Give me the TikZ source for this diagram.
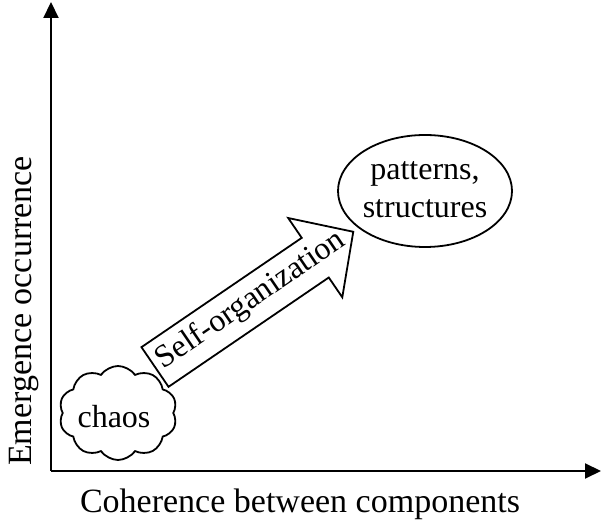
\documentclass[tikz,border=0pt]{standalone}
\usepackage{fontspec}
\setmainfont{Liberation Serif}
\usetikzlibrary{arrows.meta,shapes.geometric,shapes.symbols}
\begin{document}
\begin{tikzpicture}[x=1pt,y=1pt,
  axis/.style={line width=2pt,-{Triangle[length=16pt,width=15pt]}},
  axislabel/.style={font=\fontsize{34}{36}\selectfont},
  inlabel/.style={font=\fontsize{32}{38}\selectfont, align=center, inner sep=0pt},
  outline/.style={draw=black, line width=1.8pt}]
\useasboundingbox (0,0) rectangle (602,521);

% axes
\coordinate (origin) at (51,50);
\coordinate (ytop) at (51,519);
\coordinate (xend) at (601,50);
\draw[axis] (origin) -- (ytop);
\draw[axis] (origin) -- (xend);

\node[axislabel] (xlab) at (300,17) {Coherence between components};
\node[axislabel, rotate=90] (ylab) at (24,210) {Emergence occurrence};

% initial state
\node[cloud, outline, cloud puffs=10, cloud puff arc=110, aspect=1.3,
      minimum width=118pt, minimum height=94pt, inner sep=0pt] (chaos) at (118,108) {};
\node[inlabel] (chaostext) at (114,104) {chaos};

% final state
\node[ellipse, outline, minimum width=174pt, minimum height=112pt, inner sep=0pt]
      (patterns) at (425,330) {};
\node[inlabel] (patternstext) at (425,331) {patterns,\\structures};

% block arrow of the process
\begin{scope}[shift={(155,154)}, rotate=34.3]
  \coordinate (t1) at (0,-24);
  \coordinate (t2) at (194,-24);
  \coordinate (h1) at (194,-48);
  \coordinate (tip) at (240,0);
  \coordinate (h2) at (194,48);
  \coordinate (t3) at (194,24);
  \coordinate (t4) at (0,24);
  \draw[outline, line join=miter] (t1) -- (t2) -- (h1) -- (tip) -- (h2) -- (t3) -- (t4) -- cycle;
  \node[inlabel, rotate=34.3, anchor=center] (selforg) at (117,1) {Self-organization};
\end{scope}
\end{tikzpicture}
\end{document}
